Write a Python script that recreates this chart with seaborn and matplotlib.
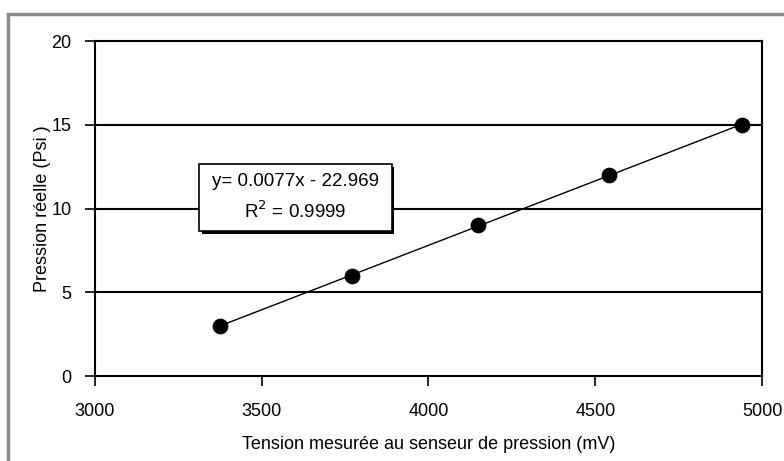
import numpy as np
import pandas as pd
import matplotlib
matplotlib.use("Agg")
import matplotlib.pyplot as plt
from matplotlib.patches import Rectangle
import seaborn as sb

# values
tension_mv = [3375, 3770, 4150, 4540, 4940]
pression_psi = [3, 6, 9, 12, 15]
x_ticks = [3000, 3500, 4000, 4500, 5000]
y_ticks = [0, 5, 10, 15, 20]

df = pd.DataFrame({"tension": tension_mv, "pression": pression_psi})

sb.set_style("white")
plt.rcParams['font.family'] = ['Liberation Sans', 'DejaVu Sans']
plt.rcParams['text.color'] = 'black'
plt.rcParams['axes.labelcolor'] = 'black'

fig = plt.figure(figsize=(7.84, 4.61), dpi=100)
ax = fig.add_axes([0.121, 0.184, 0.851, 0.727])

# grid lines at 5, 10, 15
for v in y_ticks[1:-1]:
    ax.axhline(v, color='black', lw=1.5, zorder=1)

sb.regplot(data=df, x="tension", y="pression", ax=ax, scatter=False, ci=None,
           color='black', line_kws={'lw': 1, 'zorder': 2})
sb.scatterplot(data=df, x="tension", y="pression", ax=ax, color='black', s=110,
               edgecolor='black', zorder=3)

ax.set_xlim(3000, 5000)
ax.set_ylim(0, 20)
ax.set_xticks(x_ticks)
ax.set_yticks(y_ticks)
ax.tick_params(axis='both', direction='out', length=7, width=1.2, color='black',
               labelcolor='black', labelsize=13, bottom=True, left=True)
ax.tick_params(axis='x', pad=12)
ax.tick_params(axis='y', pad=10)
for s in ax.spines.values():
    s.set_color('black')
    s.set_linewidth(1.5)

ax.set_xlabel('Tension mesurée au senseur de pression (mV)', fontsize=13, labelpad=12)
ax.set_ylabel('Pression réelle (Psi )', fontsize=13, labelpad=0)

# trendline equation box with drop shadow
bx0, by0, bw, bh = 0.156, 0.433, 0.289, 0.200
ax.add_patch(Rectangle((bx0 + 0.004, by0 - 0.008), bw, bh, transform=ax.transAxes,
                       fc='black', ec='none', zorder=4))
ax.add_patch(Rectangle((bx0, by0), bw, bh, transform=ax.transAxes,
                       fc='white', ec='black', lw=1.2, zorder=5))
ax.text(bx0 + bw / 2, by0 + bh / 2, 'y= 0.0077x - 22.969\nR$^2$ = 0.9999',
        transform=ax.transAxes, ha='center', va='center', fontsize=13.5,
        linespacing=1.6, zorder=6)

# grey outer frame of the chart area
fig.patches.append(Rectangle((0.0102, -0.1), 1.2, 1.07, transform=fig.transFigure,
                             fill=False, ec='#8a8a8a', lw=2.5))

fig.savefig('out.png', dpi=100)
